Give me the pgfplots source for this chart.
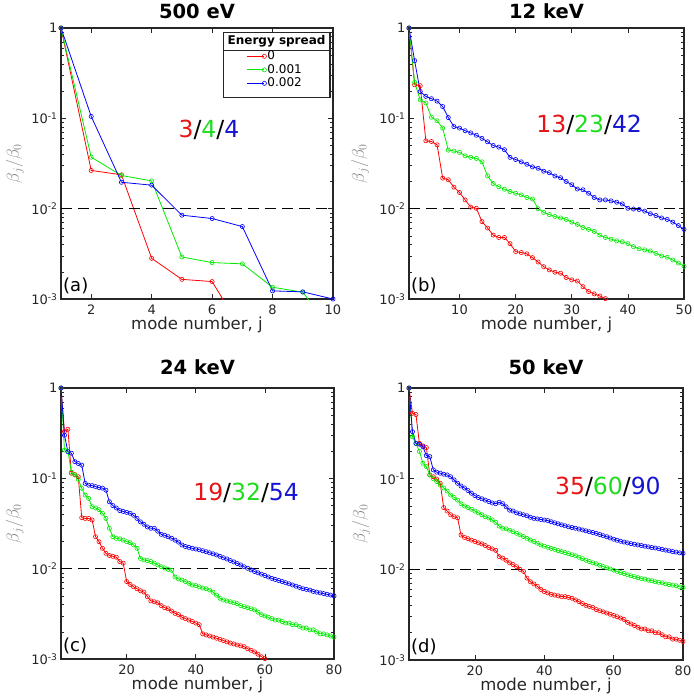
\documentclass[border=0pt]{standalone}
\usepackage{fontspec}
\setmainfont{DejaVu Sans}
\usepackage{pgfplots}
\pgfplotsset{compat=1.18}
\definecolor{lred}{RGB}{255,0,0}
\definecolor{lgreen}{RGB}{0,235,0}
\definecolor{lblue}{RGB}{0,0,255}
\definecolor{tred}{RGB}{230,20,20}
\definecolor{tgreen}{RGB}{30,220,30}
\definecolor{tblue}{RGB}{20,20,210}
\definecolor{axgray}{RGB}{38,38,38}
\definecolor{labgray}{RGB}{130,130,130}
\newcommand{\ylab}[1]{\pgfmathparse{int(round(#1))}\ifnum\pgfmathresult=0 1\else 10\textsuperscript{\pgfmathresult}\fi}
\newcommand{\tfont}{\fontsize{13}{15}\selectfont}
\pgfplotsset{
  mySer/.style={line width=0.8pt, mark=o, mark size=2.1pt, mark options={line width=0.6pt, solid}},
  myRed/.style={mySer, color=lred},
  myGreen/.style={mySer, color=lgreen},
  myBlue/.style={mySer, color=lblue},
  myTail/.style={line width=0.8pt, forget plot, no marks},
  myThr/.style={black, line width=1.2pt, dash pattern=on 11pt off 6pt, forget plot, no marks},
  legend image code/.code={\draw[#1, mark indices={2}] plot coordinates {(0pt,0pt) (17pt,0pt)};},
  every axis/.append style={
    scale only axis,
    ymode=log, log basis y=10, ymin=1e-3, ymax=1, xmin=1,
    axis line style={line width=1.4pt, color=axgray},
    tick style={color=axgray, line width=0.6pt},
    major tick length=5pt, minor tick length=3pt,
    tick align=inside,
    yticklabel={\ylab{\tick}},
    xticklabel shift=5pt,
    title style={font=\bfseries\fontsize{19.5}{23}\selectfont, at={(0.5,1)}, anchor=base, inner sep=1pt, yshift=4pt},
    xlabel={mode number, j},
    xlabel style={font=\fontsize{16.5}{20}\selectfont, text=axgray, inner sep=1pt, at={(axis description cs:0.5,-0.097)}, anchor=center},
    ylabel={\color{labgray}$\beta_j/\beta_0$},
    ylabel style={font=\fontsize{18.5}{22}\selectfont, at={(axis description cs:-0.17,0.5)}, anchor=center},
  },
}
\begin{document}
\begin{tikzpicture}
\useasboundingbox (0pt,0pt) rectangle (693pt,-700pt);
% ---------------- (a) 500 eV
\begin{axis}[at={(61pt,-299pt)}, anchor=south west, width=272pt, height=271pt,
  /pgf/number format/assume math mode=true,
  tick label style={font=\tfont, text=axgray},
  xticklabel style={inner sep=1pt},
  xmax=10, xtick={2,4,6,8,10}, title={500 eV},
  legend style={at={(0.683,0.921)}, anchor=north west, draw=none, fill=none, inner sep=0pt, row sep=0pt,
    font=\fontsize{12}{14}\selectfont, nodes={inner sep=1pt, text height=9pt, text depth=2.5pt}},
  legend cell align=left]
\addplot[myRed] coordinates {(1,1)(2,0.0265)(3,0.0237)(4,0.00282)(5,0.00165)(6,0.00156)};
\addlegendentry{0}
\addplot[myGreen] coordinates {(1,1)(2,0.0372)(3,0.0233)(4,0.0203)(5,0.00292)(6,0.00253)(7,0.00245)(8,0.00135)(9,0.00119)};
\addlegendentry{0.001}
\addplot[myBlue] coordinates {(1,1)(2,0.105)(3,0.0196)(4,0.0182)(5,0.00847)(6,0.00778)(7,0.00634)(8,0.00123)(9,0.0012)(10,0.001)};
\addlegendentry{0.002}
\addplot[myTail, lred] coordinates {(6,0.00156)(7,0.00044)};
\addplot[myTail, lgreen] coordinates {(9,0.00119)(10,0.00044)};
\addplot[myThr] coordinates {(1,0.01)(10,0.01)};
\draw[fill=white, draw=axgray, line width=1.1pt] (rel axis cs:0.596,0.742) rectangle (rel axis cs:0.989,0.985);
\draw[draw=axgray, line width=0.8pt] (rel axis cs:0.596,0.919) -- (rel axis cs:0.989,0.919);
\node[font=\bfseries\fontsize{12}{14}\selectfont, text=black] at (rel axis cs:0.7925,0.952) {Energy spread};
\node[font=\fontsize{23.5}{26}\selectfont] at (rel axis cs:0.544,0.624) {\textcolor{tred}{3}/\textcolor{tgreen}{4}/\textcolor{tblue}{4}};
\node[anchor=south west, font=\fontsize{18}{20}\selectfont, inner sep=1pt, xshift=1pt, yshift=4pt] at (rel axis cs:0,0) {(a)};
\end{axis}
% ---------------- (b) 12 keV
\begin{axis}[at={(409pt,-299pt)}, anchor=south west, width=275pt, height=271pt,
  /pgf/number format/assume math mode=true,
  tick label style={font=\tfont, text=axgray},
  xticklabel style={inner sep=1pt},
  xmax=50, xtick={10,20,30,40,50}, title={12 keV},
  ylabel style={at={(axis description cs:-0.178,0.5)}}]
\addplot[myRed] coordinates {(1,1)(2,0.235)(3,0.23)(4,0.0564)(5,0.0554)(6,0.0509)(7,0.0218)(8,0.0209)(9,0.0173)(10,0.0151)
(11,0.0125)(12,0.0104)(13,0.0101)(14,0.0072)(15,0.0061)(16,0.0051)(17,0.0048)(18,0.0048)(19,0.0041)(20,0.00335)
(21,0.00327)(22,0.00316)(23,0.00287)(24,0.00257)(25,0.00228)(26,0.0021)(27,0.00198)(28,0.00193)(29,0.00173)(30,0.00163)
(31,0.00158)(32,0.00137)(33,0.00121)(34,0.00114)(35,0.00108)(36,0.00101)};
\addplot[myTail, lred] coordinates {(36,0.00101)(37,0.00090)};
\addplot[myGreen] coordinates {(1,1)(2,0.25)(3,0.16)(4,0.148)(5,0.103)(6,0.094)(7,0.078)(8,0.0445)(9,0.0435)(10,0.042)
(11,0.0385)(12,0.037)(13,0.036)(14,0.033)(15,0.023)(16,0.019)(17,0.0175)(18,0.0164)(19,0.0155)(20,0.0148)
(21,0.0142)(22,0.0133)(23,0.0128)(24,0.0100)(25,0.0091)(26,0.0086)(27,0.0082)(28,0.0079)(29,0.0076)(30,0.0071)
(31,0.0067)(32,0.0062)(33,0.0059)(34,0.0056)(35,0.0051)(36,0.0048)(37,0.0046)(38,0.0044)(39,0.0043)(40,0.0041)
(41,0.0038)(42,0.0036)(43,0.0035)(44,0.0034)(45,0.0032)(46,0.0030)(47,0.0029)(48,0.0027)(49,0.0025)(50,0.0023)};
\addplot[myBlue] coordinates {(1,1)(2,0.435)(3,0.198)(4,0.175)(5,0.165)(6,0.155)(7,0.135)(8,0.102)(9,0.081)(10,0.078)
(11,0.073)(12,0.069)(13,0.065)(14,0.060)(15,0.055)(16,0.050)(17,0.048)(18,0.045)(19,0.037)(20,0.035)
(21,0.033)(22,0.031)(23,0.029)(24,0.028)(25,0.026)(26,0.025)(27,0.023)(28,0.022)(29,0.020)(30,0.0184)
(31,0.0165)(32,0.0162)(33,0.0148)(34,0.0133)(35,0.0125)(36,0.0125)(37,0.0122)(38,0.0118)(39,0.0113)(40,0.0101)
(41,0.0099)(42,0.0098)(43,0.0094)(44,0.0088)(45,0.0084)(46,0.0079)(47,0.0076)(48,0.0071)(49,0.0065)(50,0.0059)};
\addplot[myThr] coordinates {(1,0.01)(50,0.01)};
\node[font=\fontsize{23.5}{26}\selectfont] at (rel axis cs:0.655,0.642) {\textcolor{tred}{13}/\textcolor{tgreen}{23}/\textcolor{tblue}{42}};
\node[anchor=south west, font=\fontsize{18}{20}\selectfont, inner sep=1pt, xshift=1pt, yshift=4pt] at (rel axis cs:0,0) {(b)};
\end{axis}
% ---------------- (c) 24 keV
\begin{axis}[at={(61pt,-659pt)}, anchor=south west, width=273pt, height=271pt,
  /pgf/number format/assume math mode=true,
  tick label style={font=\tfont, text=axgray},
  xticklabel style={inner sep=1pt},
  xmax=80, xtick={20,40,60,80}, title={24 keV}, title style={yshift=4pt}]
\addplot[myRed] coordinates {(1,1)(2,0.33)(3,0.35)(4,0.114)(5,0.11)(6,0.104)(7,0.0367)(8,0.036)(9,0.036)(10,0.0346)
(11,0.0226)(12,0.0199)(13,0.0168)(14,0.0148)(15,0.014)(16,0.0137)(17,0.0134)(18,0.012)(19,0.0115)(20,0.0072)
(21,0.0067)(22,0.0063)(23,0.006)(24,0.0057)(25,0.0055)(26,0.0049)(27,0.0044)(28,0.0043)(29,0.0042)(30,0.0039)
(31,0.0037)(32,0.0036)(33,0.0034)(34,0.0032)(35,0.0031)(36,0.0029)(37,0.0028)(38,0.0027)(39,0.0026)(40,0.0025)
(41,0.0024)(42,0.0019)(43,0.00185)(44,0.0018)(45,0.00175)(46,0.0017)(47,0.00165)(48,0.0016)(49,0.00155)(50,0.0015)
(51,0.00147)(52,0.00143)(53,0.0014)(54,0.00137)(55,0.0013)(56,0.00125)(57,0.0012)(58,0.00113)(59,0.00106)(60,0.00101)};
\addplot[myTail, lred] coordinates {(60,0.00101)(61,0.00094)};
\addplot[myGreen] coordinates {(1,1)(2,0.206)(3,0.2)(4,0.117)(5,0.109)(6,0.0975)(7,0.0776)(8,0.0654)(9,0.06)(10,0.0486)
(11,0.047)(12,0.045)(13,0.041)(14,0.036)(15,0.028)(16,0.0226)(17,0.0217)(18,0.0214)(19,0.0207)(20,0.0199)
(21,0.0194)(22,0.0183)(23,0.0168)(24,0.013)(25,0.0125)(26,0.0123)(27,0.012)(28,0.0115)(29,0.011)(30,0.0105)
(31,0.0102)(32,0.0098)(33,0.0096)(34,0.0081)(35,0.0077)(36,0.0075)(37,0.0072)(38,0.0069)(39,0.0066)(40,0.0065)
(41,0.0063)(42,0.0061)(43,0.006)(44,0.0058)(45,0.0055)(46,0.0051)(47,0.0047)(48,0.0045)(49,0.0044)(50,0.0043)
(51,0.0042)(52,0.0041)(53,0.0039)(54,0.0038)(55,0.0037)(56,0.0036)(57,0.0035)(58,0.0033)(59,0.0031)(60,0.003)
(61,0.0029)(62,0.0028)(63,0.0027)(64,0.0027)(65,0.0026)(66,0.0025)(67,0.0025)(68,0.0024)(69,0.0024)(70,0.0023)
(71,0.0022)(72,0.0022)(73,0.0021)(74,0.0021)(75,0.002)(76,0.0019)(77,0.0019)(78,0.00185)(79,0.0018)(80,0.00175)};
\addplot[myBlue] coordinates {(1,1)(2,0.30)(3,0.197)(4,0.19)(5,0.153)(6,0.146)(7,0.14)(8,0.088)(9,0.084)(10,0.083)
(11,0.081)(12,0.079)(13,0.078)(14,0.074)(15,0.055)(16,0.05)(17,0.047)(18,0.044)(19,0.043)(20,0.042)
(21,0.041)(22,0.039)(23,0.036)(24,0.033)(25,0.031)(26,0.029)(27,0.028)(28,0.028)(29,0.026)(30,0.024)
(31,0.0234)(32,0.0226)(33,0.0217)(34,0.0207)(35,0.0197)(36,0.0183)(37,0.0176)(38,0.0172)(39,0.0168)(40,0.0165)
(41,0.0162)(42,0.0158)(43,0.0154)(44,0.015)(45,0.0146)(46,0.0142)(47,0.0137)(48,0.0132)(49,0.0128)(50,0.0123)
(51,0.0119)(52,0.0114)(53,0.011)(54,0.0105)(55,0.0101)(56,0.0097)(57,0.0093)(58,0.009)(59,0.0087)(60,0.0084)
(61,0.0081)(62,0.0078)(63,0.0076)(64,0.0074)(65,0.0072)(66,0.007)(67,0.0068)(68,0.0066)(69,0.0064)(70,0.0062)
(71,0.006)(72,0.0059)(73,0.0058)(74,0.0056)(75,0.0055)(76,0.0054)(77,0.0053)(78,0.0052)(79,0.0051)(80,0.005)};
\addplot[myThr] coordinates {(1,0.01)(80,0.01)};
\node[font=\fontsize{23.5}{26}\selectfont] at (rel axis cs:0.678,0.613) {\textcolor{tred}{19}/\textcolor{tgreen}{32}/\textcolor{tblue}{54}};
\node[anchor=south west, font=\fontsize{18}{20}\selectfont, inner sep=1pt, xshift=1pt, yshift=4pt] at (rel axis cs:0,0) {(c)};
\end{axis}
% ---------------- (d) 50 keV
\begin{axis}[at={(409pt,-660pt)}, anchor=south west, width=274pt, height=272pt,
  /pgf/number format/assume math mode=true,
  tick label style={font=\tfont, text=axgray},
  xticklabel style={inner sep=1pt},
  xmax=80, xtick={20,40,60,80}, title={50 keV}, title style={yshift=4pt},
  ylabel style={at={(axis description cs:-0.175,0.5)}}]
\addplot[myRed] coordinates {(1,1)(2,0.526)(3,0.51)(4,0.245)(5,0.23)(6,0.22)(7,0.11)(8,0.105)(9,0.099)(10,0.089)
(11,0.048)(12,0.044)(13,0.040)(14,0.038)(15,0.037)(16,0.0239)(17,0.0225)(18,0.0218)(19,0.021)(20,0.0203)
(21,0.0196)(22,0.0191)(23,0.0183)(24,0.0174)(25,0.0168)(26,0.0162)(27,0.0138)(28,0.0133)(29,0.0126)(30,0.0118)
(31,0.0113)(32,0.0107)(33,0.0100)(34,0.0095)(35,0.008)(36,0.0073)(37,0.0069)(38,0.0065)(39,0.006)(40,0.0057)
(41,0.0055)(42,0.0053)(43,0.0052)(44,0.0051)(45,0.005)(46,0.005)(47,0.0049)(48,0.0048)(49,0.0046)(50,0.0044)
(51,0.0042)(52,0.004)(53,0.0039)(54,0.0038)(55,0.0036)(56,0.0035)(57,0.0034)(58,0.0033)(59,0.0032)(60,0.0031)
(61,0.003)(62,0.0029)(63,0.0028)(64,0.0026)(65,0.0025)(66,0.0024)(67,0.0023)(68,0.0022)(69,0.0022)(70,0.0021)
(71,0.0021)(72,0.002)(73,0.002)(74,0.0019)(75,0.0018)(76,0.0018)(77,0.0017)(78,0.0017)(79,0.00165)(80,0.0016)};
\addplot[myGreen] coordinates {(1,1)(2,0.29)(3,0.245)(4,0.2)(5,0.148)(6,0.136)(7,0.11)(8,0.1)(9,0.093)(10,0.085)
(11,0.079)(12,0.073)(13,0.066)(14,0.062)(15,0.058)(16,0.053)(17,0.05)(18,0.048)(19,0.046)(20,0.044)
(21,0.042)(22,0.04)(23,0.038)(24,0.037)(25,0.035)(26,0.033)(27,0.03)(28,0.0284)(29,0.028)(30,0.027)
(31,0.026)(32,0.025)(33,0.024)(34,0.023)(35,0.022)(36,0.021)(37,0.0203)(38,0.0194)(39,0.0186)(40,0.018)
(41,0.0175)(42,0.017)(43,0.0166)(44,0.0161)(45,0.0157)(46,0.0153)(47,0.0149)(48,0.0145)(49,0.0141)(50,0.0136)
(51,0.0131)(52,0.0126)(53,0.0122)(54,0.0118)(55,0.0115)(56,0.0111)(57,0.0107)(58,0.0104)(59,0.0101)(60,0.0098)
(61,0.0095)(62,0.0092)(63,0.009)(64,0.0087)(65,0.0085)(66,0.0083)(67,0.0081)(68,0.0079)(69,0.0078)(70,0.0076)
(71,0.0075)(72,0.0073)(73,0.0072)(74,0.0071)(75,0.0069)(76,0.0068)(77,0.0067)(78,0.0066)(79,0.0064)(80,0.0063)};
\addplot[myBlue] coordinates {(1,1)(2,0.33)(3,0.245)(4,0.24)(5,0.225)(6,0.18)(7,0.175)(8,0.125)(9,0.118)(10,0.115)
(11,0.112)(12,0.11)(13,0.105)(14,0.097)(15,0.089)(16,0.083)(17,0.079)(18,0.074)(19,0.069)(20,0.065)
(21,0.062)(22,0.06)(23,0.058)(24,0.056)(25,0.054)(26,0.053)(27,0.055)(28,0.053)(29,0.049)(30,0.045)
(31,0.044)(32,0.042)(33,0.041)(34,0.04)(35,0.039)(36,0.0375)(37,0.0365)(38,0.036)(39,0.0355)(40,0.035)
(41,0.0345)(42,0.0335)(43,0.0326)(44,0.0318)(45,0.031)(46,0.0302)(47,0.0295)(48,0.0289)(49,0.0284)(50,0.0278)
(51,0.0272)(52,0.0266)(53,0.026)(54,0.0255)(55,0.0249)(56,0.0242)(57,0.0235)(58,0.0229)(59,0.0222)(60,0.0215)
(61,0.0209)(62,0.0204)(63,0.02)(64,0.0196)(65,0.0192)(66,0.0189)(67,0.0186)(68,0.0183)(69,0.018)(70,0.0177)
(71,0.0174)(72,0.0172)(73,0.0169)(74,0.0166)(75,0.0163)(76,0.016)(77,0.0157)(78,0.0155)(79,0.0152)(80,0.015)};
\addplot[myThr] coordinates {(1,0.01)(80,0.01)};
\node[font=\fontsize{23.5}{26}\selectfont] at (rel axis cs:0.726,0.636) {\textcolor{tred}{35}/\textcolor{tgreen}{60}/\textcolor{tblue}{90}};
\node[anchor=south west, font=\fontsize{18}{20}\selectfont, inner sep=1pt, xshift=1pt, yshift=4pt] at (rel axis cs:0,0) {(d)};
\end{axis}
\end{tikzpicture}
\end{document}
